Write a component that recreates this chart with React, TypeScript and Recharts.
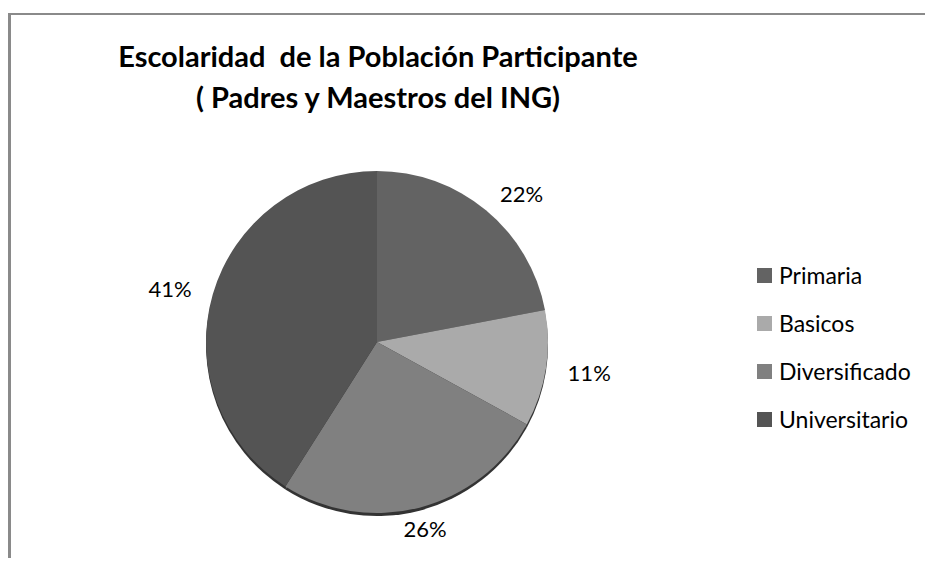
import { PieChart, Pie, Cell, Legend } from "recharts";

const CATEGORIES = ["Primaria", "Basicos", "Diversificado", "Universitario"];
const VALUES = [22, 11, 26, 41];
const COLORS = ["#636363", "#aaaaaa", "#808080", "#545454"];
const TITLE_LINES = ["Escolaridad  de la Población Participante", "( Padres y Maestros del ING)"];

const FONT = "Lato, 'Open Sans', sans-serif";
const RAD = Math.PI / 180;

const data = CATEGORIES.map((name, i) => ({ name, value: VALUES[i] }));

function renderLabel(props: any) {
  const { cx, cy, midAngle, outerRadius, percent } = props;
  const r = outerRadius + 22;
  const x = cx + r * Math.cos(-midAngle * RAD);
  const y = cy + r * Math.sin(-midAngle * RAD);
  const c = Math.cos(-midAngle * RAD);
  const anchor = c > 0.3 ? "start" : c < -0.3 ? "end" : "middle";
  return (
    <text x={x} y={y} textAnchor={anchor} dominantBaseline="central" fill="#000" fontSize={22} fontFamily={FONT}>
      {`${Math.round(percent * 100)}%`}
    </text>
  );
}

function LegendContent() {
  return (
    <div style={{ fontFamily: FONT, fontSize: 23, color: "#000" }}>
      {CATEGORIES.map((name, i) => (
        <div key={name} style={{ display: "flex", alignItems: "center", height: 48 }}>
          <span style={{ width: 15, height: 15, background: COLORS[i], display: "inline-block", marginRight: 7 }} />
          <span>{name}</span>
        </div>
      ))}
    </div>
  );
}

export default function App() {
  return (
    <div
      style={{
        position: "relative",
        top: 5,
        width: 922,
        height: 548,
        borderTop: "2px solid #8a8a8a",
        borderLeft: "3px solid #8a8a8a",
        background: "#fff",
      }}
    >
      <div
        style={{
          position: "absolute",
          left: 0,
          top: 20,
          width: 734,
          textAlign: "center",
          fontFamily: FONT,
          fontWeight: 700,
          fontSize: 29,
          lineHeight: "41px",
          color: "#000",
          whiteSpace: "pre",
          zIndex: 2,
        }}
      >
        {TITLE_LINES.map((t) => (
          <div key={t}>{t}</div>
        ))}
      </div>
      <PieChart width={922} height={548}>
        <Pie
          data={data}
          dataKey="value"
          cx={361}
          cy={325}
          outerRadius={171}
          startAngle={90}
          endAngle={-270}
          stroke="none"
          isAnimationActive={false}
          label={false}
        >
          {data.map((d) => (
            <Cell key={d.name} fill="#333333" />
          ))}
        </Pie>
        <Pie
          data={data}
          dataKey="value"
          cx={361}
          cy={322}
          outerRadius={171}
          startAngle={90}
          endAngle={-270}
          stroke="none"
          isAnimationActive={false}
          label={renderLabel}
          labelLine={false}
        >
          {data.map((d, i) => (
            <Cell key={d.name} fill={COLORS[i]} />
          ))}
        </Pie>
        <Legend
          layout="vertical"
          content={<LegendContent />}
          wrapperStyle={{ position: "absolute", left: 746, top: 236, width: 175 }}
        />
      </PieChart>
    </div>
  );
}
